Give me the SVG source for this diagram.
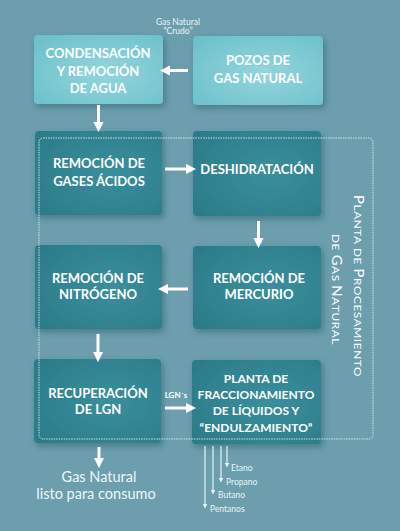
<svg xmlns="http://www.w3.org/2000/svg" width="400" height="531" viewBox="0 0 400 531">
<defs>
<radialGradient id="gLight" cx="0.55" cy="0.55" r="0.7">
<stop offset="0" stop-color="#94d5dc"/>
<stop offset="1" stop-color="#6cc1cc"/>
</radialGradient>
<radialGradient id="gDark" cx="0.6" cy="0.5" r="0.7">
<stop offset="0" stop-color="#3a8f9c"/>
<stop offset="1" stop-color="#2c7c8a"/>
</radialGradient>
<filter id="sh" x="-20%" y="-20%" width="150%" height="150%">
<feDropShadow dx="2" dy="3" stdDeviation="3" flood-color="#1d4d58" flood-opacity="0.45"/>
</filter>
<marker id="ah" viewBox="0 0 10 10" refX="5" refY="5" markerWidth="3.4" markerHeight="3.4" orient="auto" markerUnits="strokeWidth">
<path d="M0,0 L10,5 L0,10 z" fill="#ffffff"/>
</marker>
<marker id="sh2" viewBox="0 0 10 10" refX="5" refY="5" markerWidth="5" markerHeight="5" orient="auto" markerUnits="userSpaceOnUse">
<path d="M0,0 L10,5 L0,10 z" fill="#e6f3f5"/>
</marker>
</defs>
<style>
.lt{fill:url(#gLight);filter:url(#sh)}
.dk{fill:url(#gDark);filter:url(#sh)}
.lbl{font-family:Lato,"Open Sans","Liberation Sans",sans-serif;font-weight:700;font-size:13px;fill:#ffffff;text-anchor:middle}
.sm{font-family:Lato,"Open Sans","Liberation Sans",sans-serif;font-size:8.5px;fill:#e8f4f6}
.big{font-family:Lato,"Open Sans","Liberation Sans",sans-serif;font-size:14.5px;fill:#eef7f8;text-anchor:middle}
.arr{stroke:#ffffff;stroke-width:3;fill:none;marker-end:url(#ah)}
.out{stroke:#e6f3f5;stroke-width:1.2;fill:none;marker-end:url(#sh2)}
.vt{font-family:Lato,"Open Sans","Liberation Sans",sans-serif;font-size:10px;fill:#ffffff;text-anchor:middle;letter-spacing:0.5px}
.vt .c{font-size:12.5px}
</style>
<rect x="0" y="0" width="400" height="531" fill="#6d9eae"/>

<g id="n-condensacion">
<rect class="lt" x="34" y="35" width="129" height="69" rx="4"/>
<text class="lbl" x="98" y="58">CONDENSACIÓN</text>
<text class="lbl" x="98" y="76">Y REMOCIÓN</text>
<text class="lbl" x="98" y="93">DE AGUA</text>
</g>
<g id="n-pozos">
<rect class="lt" x="193" y="36" width="130" height="69" rx="4"/>
<text class="lbl" x="258" y="65">POZOS DE</text>
<text class="lbl" x="258" y="83">GAS NATURAL</text>
</g>
<g id="n-gases">
<rect class="dk" x="35" y="131" width="127" height="84" rx="4"/>
<text class="lbl" x="99" y="168">REMOCIÓN DE</text>
<text class="lbl" x="99" y="186">GASES ÁCIDOS</text>
</g>
<g id="n-deshidratacion">
<rect class="dk" x="193" y="131" width="128" height="85" rx="4"/>
<text class="lbl" x="257" y="174">DESHIDRATACIÓN</text>
</g>
<g id="n-nitrogeno">
<rect class="dk" x="35" y="245" width="127" height="84" rx="4"/>
<text class="lbl" x="98" y="283">REMOCIÓN DE</text>
<text class="lbl" x="98" y="299">NITRÓGENO</text>
</g>
<g id="n-mercurio">
<rect class="dk" x="193" y="246" width="128" height="83" rx="4"/>
<text class="lbl" x="259" y="283">REMOCIÓN DE</text>
<text class="lbl" x="259" y="299">MERCURIO</text>
</g>
<g id="n-recuperacion">
<rect class="dk" x="34" y="359" width="127" height="84" rx="4"/>
<text class="lbl" x="98" y="398">RECUPERACIÓN</text>
<text class="lbl" x="98" y="414">DE LGN</text>
</g>
<g id="n-planta">
<rect class="dk" x="192" y="360" width="129" height="84" rx="4"/>
<text class="lbl" x="256" y="383" style="font-size:12px">PLANTA DE</text>
<text class="lbl" x="256" y="399" style="font-size:12px">FRACCIONAMIENTO</text>
<text class="lbl" x="256" y="415" style="font-size:12px">DE LÍQUIDOS Y</text>
<text class="lbl" x="256" y="432" style="font-size:12px">“ENDULZAMIENTO”</text>
</g>

<g id="plant-boundary">
<rect x="39" y="138" width="334" height="301" rx="4" fill="none" stroke="#e6f2f4" stroke-width="1" stroke-dasharray="1.5,1" opacity="0.85"/>
<text class="vt" transform="translate(354,286) rotate(90)" textLength="182" lengthAdjust="spacingAndGlyphs"><tspan class="c">P</tspan>LANTA DE <tspan class="c">P</tspan>ROCESAMIENTO</text>
<text class="vt" transform="translate(332,289.5) rotate(90)" textLength="111" lengthAdjust="spacingAndGlyphs">DE <tspan class="c">G</tspan>AS <tspan class="c">N</tspan>ATURAL</text>
</g>

<g id="connectors">
<path class="arr" d="M188,70.5 L165,70.5"/>
<path class="arr" d="M98.5,105 L98.5,127"/>
<path class="arr" d="M165,169 L191,169"/>
<path class="arr" d="M258.5,221 L258.5,243"/>
<path class="arr" d="M188,289 L163,289"/>
<path class="arr" d="M98,334 L98,357"/>
<path class="arr" d="M165,408 L191,408"/>
<path class="arr" d="M99,447 L99,463"/>
<path class="out" d="M205,446 L205,506"/>
<path class="out" d="M213,446 L213,492"/>
<path class="out" d="M221,446 L221,480"/>
<path class="out" d="M227,446 L227,465"/>
</g>

<g id="labels">
<text class="sm" x="178" y="25" text-anchor="middle">Gas Natural</text>
<text class="sm" x="178" y="34" text-anchor="middle">“Crudo”</text>
<text class="sm" x="176" y="398" text-anchor="middle" style="font-weight:700;font-size:8px;fill:#ffffff">LGN´s</text>
<text class="big" x="99" y="482">Gas Natural</text>
<text class="big" x="96" y="499">listo para consumo</text>
<text class="sm" x="231" y="471">Etano</text>
<text class="sm" x="226" y="485">Propano</text>
<text class="sm" x="218" y="498">Butano</text>
<text class="sm" x="210" y="512">Pentanos</text>
</g>
</svg>
